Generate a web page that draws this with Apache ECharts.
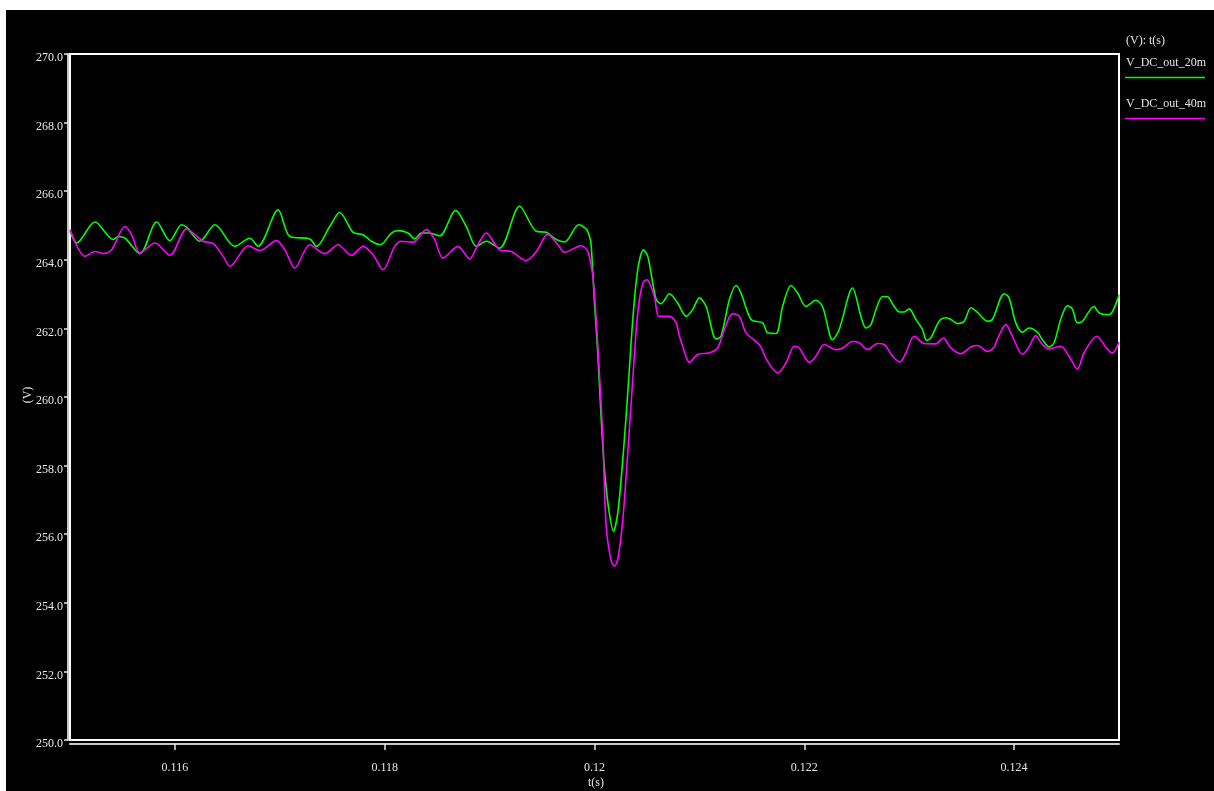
<!DOCTYPE html>
<html><head><meta charset="utf-8">
<script src="https://cdn.jsdelivr.net/npm/echarts@6/dist/echarts.min.js"></script>
<style>
html,body{margin:0;padding:0;background:#fff;width:1214px;height:791px;overflow:hidden}
#c{position:absolute;left:6px;top:10px;width:1208px;height:781px;background:#000}
</style>
</head><body><div id="c"></div>
<script>
// ---- data ----
const seriesNames = ['V_DC_out_20m', 'V_DC_out_40m'];
const seriesColors = ['#00ff00', '#ff00ff'];
const legendTitle = '(V): t(s)';
const xTitle = 't(s)';
const yTitle = '(V)';
const xTickValues = [0.116, 0.118, 0.120, 0.122, 0.124];
const xTickLabels = ['0.116', '0.118', '0.12', '0.122', '0.124'];

const tGreen = [0.115000,0.115064,0.115238,0.115412,0.115460,0.115524,0.115667,0.115826,0.115952,0.116064,
0.116111,0.116238,0.116381,0.116571,0.116714,0.116793,0.116984,0.117095,0.117286,0.117350,
0.117476,0.117571,0.117698,0.117793,0.117873,0.117959,0.118064,0.118127,0.118222,0.118286,
0.118350,0.118429,0.118524,0.118676,0.118778,0.118873,0.118968,0.119095,0.119286,0.119445,
0.119540,0.119635,0.119714,0.119850,0.119921,0.119952,0.119968,0.120000,0.120031,0.120064,
0.120095,0.120136,0.120181,0.120222,0.120270,0.120317,0.120365,0.120412,0.120467,0.120508,
0.120588,0.120635,0.120714,0.120793,0.120873,0.120936,0.121000,0.121064,0.121159,0.121206,
0.121286,0.121350,0.121397,0.121492,0.121603,0.121650,0.121730,0.121793,0.121873,0.121936,
0.122016,0.122111,0.122174,0.122270,0.122333,0.122460,0.122540,0.122588,0.122635,0.122683,
0.122746,0.122793,0.122857,0.122905,0.122952,0.123000,0.123064,0.123127,0.123165,0.123206,
0.123286,0.123350,0.123397,0.123460,0.123524,0.123588,0.123651,0.123746,0.123793,0.123905,
0.123952,0.124016,0.124079,0.124143,0.124222,0.124270,0.124333,0.124381,0.124444,0.124508,
0.124555,0.124603,0.124651,0.124762,0.124810,0.124905,0.125000];
const vGreen = [264.83,264.49,265.10,264.59,264.68,264.63,264.18,265.10,264.56,265.02,
264.95,264.54,265.02,264.39,264.63,264.39,265.46,264.68,264.61,264.39,
264.97,265.38,264.80,264.73,264.54,264.44,264.78,264.85,264.78,264.61,
264.78,264.78,264.70,265.44,264.97,264.39,264.54,264.34,265.56,264.83,
264.80,264.59,264.52,265.02,264.90,264.68,264.44,262.74,261.29,259.35,
257.89,256.72,256.09,256.63,258.18,260.12,262.26,263.71,264.29,264.10,
262.84,262.72,263.01,262.74,262.35,262.55,262.89,262.64,261.69,261.77,
262.84,263.25,263.03,262.26,262.16,261.87,261.85,262.64,263.25,263.03,
262.64,262.82,262.64,261.67,261.97,263.18,262.35,262.01,262.11,262.55,
262.93,262.92,262.64,262.48,262.48,262.57,262.26,261.97,261.65,261.72,
262.21,262.31,262.26,262.14,262.21,262.60,262.47,262.21,262.26,263.01,
262.89,262.16,261.89,262.01,261.89,261.67,261.46,261.58,262.26,262.66,
262.57,262.16,262.21,262.64,262.45,262.40,262.98];

const tMagenta = [0.115000,0.115143,0.115238,0.115317,0.115397,0.115524,0.115588,0.115667,0.115810,0.115952,
0.116111,0.116174,0.116270,0.116365,0.116460,0.116524,0.116698,0.116810,0.116968,0.117048,
0.117143,0.117286,0.117429,0.117555,0.117683,0.117793,0.117889,0.117984,0.118095,0.118159,
0.118270,0.118397,0.118476,0.118555,0.118698,0.118810,0.118889,0.118968,0.119095,0.119206,
0.119349,0.119445,0.119555,0.119651,0.119714,0.119841,0.119873,0.119936,0.119984,0.120016,
0.120048,0.120079,0.120111,0.120159,0.120190,0.120222,0.120270,0.120317,0.120365,0.120412,
0.120460,0.120498,0.120571,0.120613,0.120714,0.120778,0.120810,0.120841,0.120905,0.120984,
0.121095,0.121174,0.121238,0.121317,0.121381,0.121445,0.121571,0.121650,0.121746,0.121826,
0.121905,0.121952,0.122048,0.122111,0.122190,0.122302,0.122365,0.122460,0.122524,0.122603,
0.122698,0.122762,0.122810,0.122841,0.122911,0.122968,0.123048,0.123143,0.123254,0.123324,
0.123397,0.123492,0.123588,0.123651,0.123746,0.123810,0.123841,0.123921,0.123984,0.124079,
0.124143,0.124206,0.124270,0.124333,0.124444,0.124524,0.124603,0.124667,0.124788,0.124873,
0.124936,0.125000];
const vMagenta = [264.88,264.10,264.24,264.18,264.29,264.97,264.73,264.20,264.49,264.13,
264.90,264.78,264.54,264.47,264.10,263.81,264.41,264.27,264.56,264.29,
263.76,264.44,264.18,264.44,264.13,264.39,264.15,263.71,264.39,264.54,
264.51,264.88,264.59,264.05,264.39,264.03,264.44,264.78,264.29,264.24,
263.98,264.24,264.75,264.44,264.22,264.39,264.41,264.24,263.52,262.26,
260.61,258.86,256.24,255.22,255.07,255.27,256.43,258.38,260.51,262.45,
263.32,263.42,262.93,262.35,262.35,262.16,261.77,261.48,261.01,261.24,
261.29,261.43,261.97,262.43,262.35,261.87,261.53,261.04,260.70,261.00,
261.48,261.43,261.01,261.19,261.53,261.38,261.43,261.62,261.58,261.38,
261.56,261.53,261.33,261.19,261.02,261.29,261.77,261.56,261.55,261.72,
261.43,261.26,261.46,261.50,261.33,261.46,261.69,262.11,261.77,261.24,
261.46,261.79,261.53,261.40,261.48,261.19,260.82,261.29,261.77,261.46,
261.28,261.60];

// ---- chart ----
const FONT = '"Liberation Serif", "Times New Roman", serif';
const TXT = '#e6e6e6';
const AXIS = '#c8c8c8';

const chart = echarts.init(document.getElementById('c'), null, {renderer: 'canvas'});

function pairs(ts, vs) { return ts.map((t, i) => [t, vs[i]]); }

const option = {
  backgroundColor: '#000',
  animation: false,
  textStyle: {fontFamily: FONT},
  grid: {
    left: 64, top: 44, width: 1049, height: 686,
    show: true, borderColor: '#ffffff', borderWidth: 2, backgroundColor: 'transparent'
  },
  xAxis: {
    type: 'value', min: 0.115, max: 0.125, offset: 4,
    axisLine: {show: true, onZero: false, lineStyle: {color: AXIS, width: 2}},
    axisTick: {show: true, length: 6, customValues: xTickValues, lineStyle: {color: TXT, width: 1.5}},
    axisLabel: {
      customValues: xTickValues, color: TXT, fontSize: 12, fontFamily: FONT, margin: 18,
      formatter: function (v) {
        let best = 0;
        xTickValues.forEach((x, i) => { if (Math.abs(x - v) < Math.abs(xTickValues[best] - v)) best = i; });
        return xTickLabels[best];
      }
    },
    splitLine: {show: false}
  },
  yAxis: {
    type: 'value', min: 250, max: 270, interval: 2, offset: 2,
    axisLine: {show: true, onZero: false, lineStyle: {color: AXIS, width: 2}},
    axisTick: {show: true, length: 4, lineStyle: {color: TXT, width: 1.5}},
    axisLabel: {color: TXT, fontSize: 12, fontFamily: FONT, margin: 5,
      verticalAlign: 'top', lineHeight: 8,
      formatter: v => v.toFixed(1)},
    splitLine: {show: false}
  },
  series: [
    {name: seriesNames[0], type: 'line', data: pairs(tGreen, vGreen), showSymbol: false, symbol: 'none',
     smooth: 0.3, lineStyle: {color: seriesColors[0], width: 1.6}, itemStyle: {color: seriesColors[0]}},
    {name: seriesNames[1], type: 'line', data: pairs(tMagenta, vMagenta), showSymbol: false, symbol: 'none',
     smooth: 0.3, lineStyle: {color: seriesColors[1], width: 1.6}, itemStyle: {color: seriesColors[1]}}
  ],
  graphic: [
    {type: 'text', x: 1120, y: 31, style: {text: legendTitle, fill: TXT, font: '12px ' + FONT, verticalAlign: 'middle', align: 'left'}},
    {type: 'text', x: 1120, y: 53, style: {text: seriesNames[0], fill: TXT, font: '12px ' + FONT, verticalAlign: 'middle', align: 'left'}},
    {type: 'line', shape: {x1: 1119, y1: 67.5, x2: 1199, y2: 67.5}, style: {stroke: seriesColors[0], lineWidth: 1.6}},
    {type: 'text', x: 1120, y: 94, style: {text: seriesNames[1], fill: TXT, font: '12px ' + FONT, verticalAlign: 'middle', align: 'left'}},
    {type: 'line', shape: {x1: 1119, y1: 108.5, x2: 1199, y2: 108.5}, style: {stroke: seriesColors[1], lineWidth: 1.6}},
    {type: 'text', x: 590, y: 773, style: {text: xTitle, fill: TXT, font: '12px ' + FONT, verticalAlign: 'middle', align: 'center'}},
    {type: 'text', x: 22, y: 385, rotation: Math.PI / 2, style: {text: yTitle, fill: TXT, font: '12px ' + FONT, verticalAlign: 'middle', align: 'center'}}
  ]
};
chart.setOption(option);
</script>
</body></html>
